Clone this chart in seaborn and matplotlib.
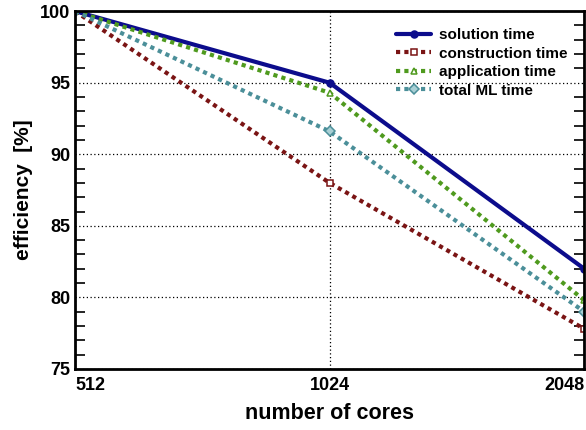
import matplotlib
matplotlib.use('Agg')
import matplotlib.pyplot as plt
import numpy as np
import pandas as pd
import seaborn as sns
from matplotlib.ticker import FixedLocator, MultipleLocator

cores = [512, 1024, 2048]
solution = [100.0, 95.0, 82.0]
construction = [100.0, 88.0, 77.8]
application = [100.0, 94.3, 79.8]
total_ml = [100.0, 91.6, 79.0]

series_names = ['solution time', 'construction time', 'application time', 'total ML time']
series_values = [solution, construction, application, total_ml]

sns.set_style("ticks", {'axes.edgecolor': 'black', 'text.color': 'black',
                        'axes.labelcolor': 'black', 'xtick.color': 'black',
                        'ytick.color': 'black'})
plt.rcParams['font.family'] = ['Liberation Sans', 'DejaVu Sans']
plt.rcParams['font.weight'] = 'bold'

rows = []
for name, vals in zip(series_names, series_values):
    for c, v in zip(cores, vals):
        rows.append({'cores': c, 'efficiency': v, 'series': name})
df = pd.DataFrame(rows)

colors = ['#0c0c8c', '#7a1414', '#4f9a1e', '#4b8f99']
styles = ['-', (0, (1, 1)), (0, (1, 1)), (0, (1, 1))]
markers = ['o', 's', '^', 'D']
mfc = ['#0c0c8c', 'white', 'white', '#a8cfd4']

fig, ax = plt.subplots(figsize=(5.86, 4.30), dpi=100)
fig.subplots_adjust(left=0.128, right=0.997, top=0.974, bottom=0.142)

for i, name in enumerate(series_names):
    sub = df[df['series'] == name]
    sns.lineplot(data=sub, x='cores', y='efficiency', ax=ax, color=colors[i],
                 label=name, linewidth=3, marker=markers[i], markersize=5,
                 markerfacecolor=mfc[i], markeredgecolor=colors[i], markeredgewidth=1.1)
    ax.lines[-1].set_linestyle(styles[i])
    ax.lines[-1].set_dash_capstyle('butt')

ax.set_xscale('log', base=2)
ax.set_xlim(512, 2048)
ax.set_ylim(75, 100)
ax.xaxis.set_major_locator(FixedLocator(cores))
ax.xaxis.set_minor_locator(FixedLocator([]))
ax.set_xticklabels([str(c) for c in cores], fontsize=13, fontweight='bold')
labs = ax.get_xticklabels()
labs[0].set_horizontalalignment('left')
labs[2].set_horizontalalignment('right')
ax.yaxis.set_major_locator(MultipleLocator(5))
ax.yaxis.set_minor_locator(MultipleLocator(1))
ax.tick_params(axis='y', which='both', direction='in', left=True, right=True, labelsize=13, width=1.2)
ax.tick_params(axis='y', which='major', length=0)
ax.tick_params(axis='y', which='minor', length=7)
ax.tick_params(axis='x', which='both', length=0, labelsize=13, pad=6)
for lab in ax.get_yticklabels():
    lab.set_fontweight('bold')

ax.grid(True, which='major', color='black', linestyle=(0, (1, 2)), linewidth=0.9)
for sp in ax.spines.values():
    sp.set_linewidth(2)
    sp.set_visible(True)
    sp.set_color('black')

ax.set_xlabel('number of cores', fontsize=15.5, fontweight='bold', labelpad=6)
ax.set_ylabel('efficiency  [%]', fontsize=15, fontweight='bold')
ax.yaxis.set_label_coords(-0.0825, 0.5)

leg = ax.legend(loc='upper right', frameon=False, fontsize=11, handlelength=2.3,
                handletextpad=0.5, labelspacing=0.3, borderaxespad=0.7)
for t in leg.get_texts():
    t.set_fontweight('bold')
    t.set_color('black')

fig.savefig('out.png', dpi=100)
